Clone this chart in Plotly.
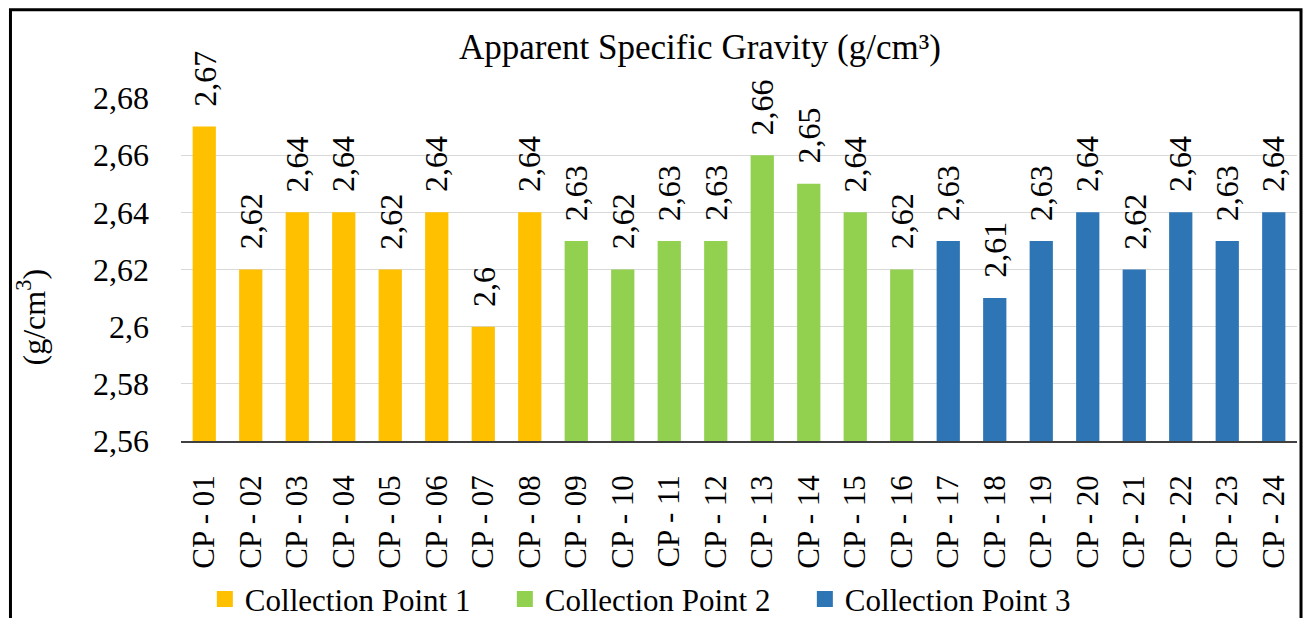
import plotly.graph_objects as go

# Sample identifiers and apparent specific gravity, grouped by collection point
cp1_samples = ["CP - 01", "CP - 02", "CP - 03", "CP - 04", "CP - 05", "CP - 06", "CP - 07", "CP - 08"]
cp1_values = [2.67, 2.62, 2.64, 2.64, 2.62, 2.64, 2.60, 2.64]

cp2_samples = ["CP - 09", "CP - 10", "CP - 11", "CP - 12", "CP - 13", "CP - 14", "CP - 15", "CP - 16"]
cp2_values = [2.63, 2.62, 2.63, 2.63, 2.66, 2.65, 2.64, 2.62]

cp3_samples = ["CP - 17", "CP - 18", "CP - 19", "CP - 20", "CP - 21", "CP - 22", "CP - 23", "CP - 24"]
cp3_values = [2.63, 2.61, 2.63, 2.64, 2.62, 2.64, 2.63, 2.64]

series_names = ["Collection Point 1", "Collection Point 2", "Collection Point 3"]
series_colors = ["#FFC000", "#92D050", "#2E75B6"]

y_ticks = [2.56, 2.58, 2.60, 2.62, 2.64, 2.66, 2.68]
y_tick_labels = ["2,56", "2,58", "2,6", "2,62", "2,64", "2,66", "2,68"]

SERIF = "Liberation Serif"


def comma(v):
    return f"{v:g}".replace(".", ",")


fig = go.Figure()
groups = [(cp1_samples, cp1_values), (cp2_samples, cp2_values), (cp3_samples, cp3_values)]
for (xs, ys), name, color in zip(groups, series_names, series_colors):
    fig.add_trace(go.Bar(x=xs, y=ys, name=name, showlegend=False,
                         marker=dict(color=color, line=dict(width=0))))
    # legend swatch: a larger square than the default bar symbol
    fig.add_trace(go.Scatter(x=[None], y=[None], mode="markers", name=name,
                             marker=dict(symbol="square", size=16, color=color)))
    # value labels, rotated, just above each bar
    for x, y in zip(xs, ys):
        fig.add_annotation(x=x, y=y, text=comma(y), textangle=-90, showarrow=False,
                           xref="x", yref="y", yanchor="bottom", xanchor="center", yshift=18,
                           font=dict(family=SERIF, size=32, color="#000000"))

all_samples = cp1_samples + cp2_samples + cp3_samples

fig.update_layout(
    width=1305, height=618,
    margin=dict(l=181, r=8, t=98, b=177, autoexpand=False),
    paper_bgcolor="white", plot_bgcolor="white",
    barmode="overlay", bargap=0.5,
    showlegend=True,
    legend=dict(orientation="h", x=0.4246, xanchor="center", y=-0.462, yanchor="middle",
                font=dict(family=SERIF, size=31, color="#000000"),
                itemwidth=30, tracegroupgap=0, bgcolor="rgba(0,0,0,0)",
                entrywidth=255, entrywidthmode="pixels"),
    xaxis=dict(type="category", categoryorder="array", categoryarray=all_samples,
               tickangle=-90, tickfont=dict(family=SERIF, size=31, color="#000000"),
               showline=True, linecolor="#404040", linewidth=1.5, automargin=False,
               ticks="", ticklabelstandoff=20, showgrid=False),
    yaxis=dict(range=[2.56, 2.68], tickvals=y_ticks, ticktext=y_tick_labels,
               tickfont=dict(family=SERIF, size=32, color="#000000"), automargin=False,
               showgrid=True, gridcolor="#D9D9D9", gridwidth=1,
               zeroline=False, showline=False, ticks="", ticklabelstandoff=31),
)

# chart title and vertical axis title
fig.add_annotation(x=0.465, y=1.146, xref="paper", yref="paper", showarrow=False,
                   xanchor="center", yanchor="middle",
                   text="Apparent Specific Gravity (g/cm³)",
                   font=dict(family=SERIF, size=35, color="#000000"))
fig.add_annotation(x=-0.134, y=0.3615, xref="paper", yref="paper", showarrow=False,
                   xanchor="center", yanchor="middle",
                   text="(g/cm<sup>3</sup>)", textangle=-90,
                   font=dict(family=SERIF, size=32, color="#000000"))

# outer frame
fig.add_shape(type="rect", xref="paper", yref="paper",
              x0=-0.1528, x1=1.0036, y0=-0.54, y1=1.257,
              line=dict(color="#000000", width=3), fillcolor="rgba(0,0,0,0)", layer="above")

fig.write_html("out.html")
